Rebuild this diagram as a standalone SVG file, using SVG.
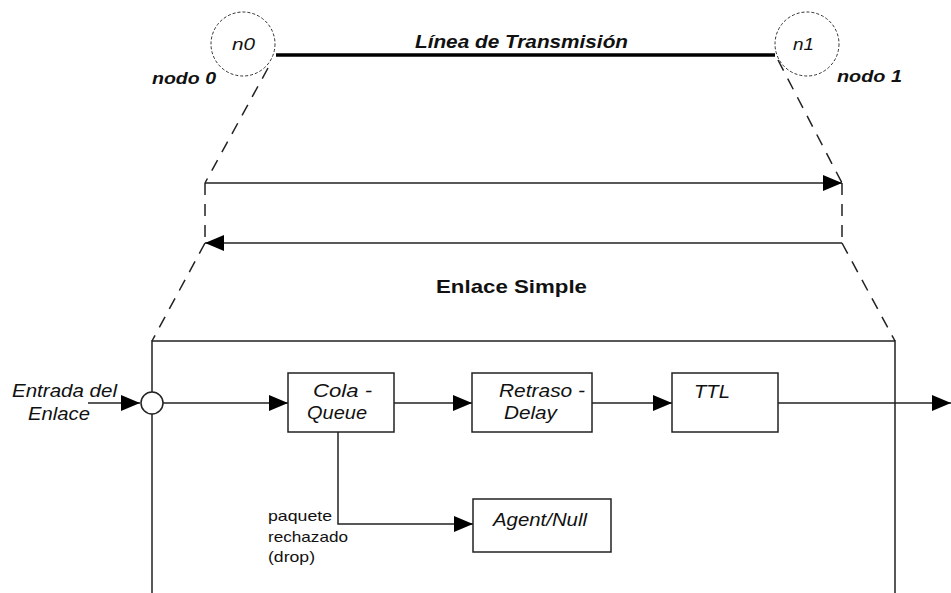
<svg xmlns="http://www.w3.org/2000/svg" width="951" height="593" viewBox="0 0 951 593">
<style>
.ln{stroke:#222;stroke-width:1.5;fill:none}
.ds{stroke:#222;stroke-width:1.5;fill:none;stroke-dasharray:12 9}
.bx{stroke:#222;stroke-width:1.5;fill:#fff}
.nc{stroke:#333;stroke-width:1;fill:#fff;stroke-dasharray:3 2}
.t{font-family:"Liberation Sans",Arial,sans-serif;fill:#111}
.it{font-style:italic}
.bi{font-style:italic;font-weight:bold}
.b{font-weight:bold}
</style>
<defs>
<marker id="ah" markerUnits="userSpaceOnUse" markerWidth="20" markerHeight="16" viewBox="0 0 20 16" refX="19" refY="8" orient="auto">
<path d="M0,0 L19,8 L0,16 Z" fill="#000"/>
</marker>
</defs>
<rect width="951" height="593" fill="#fff"/>
<g id="connectors">
<line x1="276" y1="55" x2="775" y2="55" stroke="#000" stroke-width="3.5"/>
<line class="ds" x1="268" y1="68" x2="205" y2="183"/>
<line class="ds" x1="778" y1="60" x2="842" y2="183"/>
<line class="ds" x1="205" y1="183" x2="205" y2="243"/>
<line class="ds" x1="842" y1="183" x2="842" y2="243"/>
<line class="ln" x1="205" y1="183" x2="842" y2="183" marker-end="url(#ah)"/>
<line class="ln" x1="842" y1="243" x2="205" y2="243" marker-end="url(#ah)"/>
<line class="ds" x1="205" y1="243" x2="152" y2="341"/>
<line class="ds" x1="842" y1="243" x2="895" y2="341"/>
<path class="ln" d="M152,593 L152,341 L895,341 L895,593"/>
<line class="ln" x1="88" y1="403" x2="140" y2="403" marker-end="url(#ah)"/>
<line class="ln" x1="163" y1="403" x2="288" y2="403" marker-end="url(#ah)"/>
<line class="ln" x1="394" y1="403" x2="472" y2="403" marker-end="url(#ah)"/>
<line class="ln" x1="592" y1="403" x2="672" y2="403" marker-end="url(#ah)"/>
<line class="ln" x1="778" y1="403" x2="951" y2="403" marker-end="url(#ah)"/>
<path class="ln" d="M338,432 L338,524 L473,524" marker-end="url(#ah)"/>
</g>
<g id="n0">
<circle class="nc" cx="243" cy="44" r="32"/>
<text class="t it" x="232" y="50" font-size="17" textLength="23" lengthAdjust="spacingAndGlyphs" fill="#333">n0</text>
<text class="t bi" x="152" y="84" font-size="16" textLength="64" lengthAdjust="spacingAndGlyphs">nodo 0</text>
</g>
<g id="n1">
<circle class="nc" cx="807" cy="44" r="32"/>
<text class="t it" x="793" y="50" font-size="17" textLength="21" lengthAdjust="spacingAndGlyphs" fill="#333">n1</text>
<text class="t bi" x="837" y="82" font-size="16" textLength="65" lengthAdjust="spacingAndGlyphs">nodo 1</text>
</g>
<g id="linea">
<text class="t bi" x="415" y="48" font-size="18" textLength="213" lengthAdjust="spacingAndGlyphs">Línea de Transmisión</text>
</g>
<g id="enlace-simple">
<text class="t b" x="436" y="293" font-size="19" textLength="151" lengthAdjust="spacingAndGlyphs">Enlace Simple</text>
</g>
<g id="entrada">
<text class="t it" x="12" y="397" font-size="18" textLength="105" lengthAdjust="spacingAndGlyphs">Entrada del</text>
<text class="t it" x="28" y="420" font-size="18" textLength="62" lengthAdjust="spacingAndGlyphs">Enlace</text>
<circle cx="152" cy="403" r="11" fill="#fff" stroke="#222" stroke-width="1.5"/>
</g>
<g id="cola">
<rect class="bx" x="288" y="373" width="106" height="59"/>
<text class="t it" x="313" y="397" font-size="18" textLength="59" lengthAdjust="spacingAndGlyphs">Cola -</text>
<text class="t it" x="307" y="419" font-size="18" textLength="60" lengthAdjust="spacingAndGlyphs">Queue</text>
</g>
<g id="retraso">
<rect class="bx" x="472" y="373" width="120" height="59"/>
<text class="t it" x="499" y="397" font-size="18" textLength="86" lengthAdjust="spacingAndGlyphs">Retraso -</text>
<text class="t it" x="504" y="419" font-size="18" textLength="53" lengthAdjust="spacingAndGlyphs">Delay</text>
</g>
<g id="ttl">
<rect class="bx" x="672" y="373" width="106" height="59"/>
<text class="t it" x="694" y="398" font-size="18" textLength="36" lengthAdjust="spacingAndGlyphs">TTL</text>
</g>
<g id="agent">
<rect class="bx" x="473" y="499" width="138" height="53"/>
<text class="t it" x="493" y="526" font-size="18" textLength="94" lengthAdjust="spacingAndGlyphs">Agent/Null</text>
</g>
<g id="drop-label">
<text class="t" x="268" y="521" font-size="15" textLength="64" lengthAdjust="spacingAndGlyphs">paquete</text>
<text class="t" x="268" y="542" font-size="15" textLength="80" lengthAdjust="spacingAndGlyphs">rechazado</text>
<text class="t" x="268" y="562" font-size="15" textLength="47" lengthAdjust="spacingAndGlyphs">(drop)</text>
</g>
</svg>
